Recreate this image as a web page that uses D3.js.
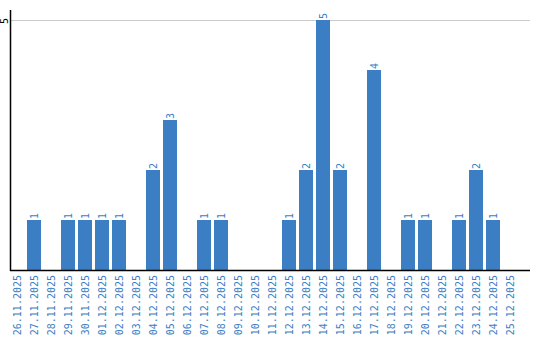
<!DOCTYPE html>
<html>
<head>
<meta charset="utf-8">
<script src="https://cdn.jsdelivr.net/npm/d3@7"></script>
<style>
  body { margin: 0; background: #fff; }
  svg { display: block; }
  text { font-family: "DejaVu Sans Mono", monospace; font-size: 10px; }
</style>
</head>
<body>
<svg id="chart" width="540" height="340"></svg>
<script>
const dates = ["26.11.2025", "27.11.2025", "28.11.2025", "29.11.2025", "30.11.2025",
  "01.12.2025", "02.12.2025", "03.12.2025", "04.12.2025", "05.12.2025",
  "06.12.2025", "07.12.2025", "08.12.2025", "09.12.2025", "10.12.2025",
  "11.12.2025", "12.12.2025", "13.12.2025", "14.12.2025", "15.12.2025",
  "16.12.2025", "17.12.2025", "18.12.2025", "19.12.2025", "20.12.2025",
  "21.12.2025", "22.12.2025", "23.12.2025", "24.12.2025", "25.12.2025"]
const counts = [0, 1, 0, 1, 1, 1, 1, 0, 2, 3, 0, 1, 1, 0, 0, 0, 1, 2, 5, 2, 0, 4, 0, 1, 1, 0, 1, 2, 1, 0]
const yTicks = [5]

const blue = "#3b7ec3"
const left = 10, right = 530, base = 270

const svg = d3.select("#chart")

const x = d3.scaleBand()
  .domain(dates)
  .range([left, 517])
  .paddingInner(3 / 17)
  .paddingOuter(0)
  .align(0)

const y = d3.scaleLinear()
  .domain([0, 5])
  .range([base, 20])

// grid line
svg.selectAll("line.grid")
  .data(yTicks)
  .enter().append("line")
  .attr("class", "grid")
  .attr("x1", left).attr("x2", right)
  .attr("y1", d => y(d) + 0.5).attr("y2", d => y(d) + 0.5)
  .attr("stroke", "#ccc")

// y tick labels (rotated)
svg.selectAll("text.ytick")
  .data(yTicks)
  .enter().append("text")
  .attr("class", "ytick")
  .attr("text-anchor", "middle")
  .attr("transform", d => "translate(8," + (y(d) + 1) + ") rotate(-90)")
  .attr("fill", "#000")
  .text(d => d)

// bars
svg.selectAll("rect.bar")
  .data(dates)
  .enter().append("rect")
  .attr("class", "bar")
  .attr("x", d => x(d))
  .attr("width", x.bandwidth())
  .attr("y", (d, i) => y(counts[i]))
  .attr("height", (d, i) => base - y(counts[i]))
  .attr("fill", blue)

// value labels
svg.selectAll("text.val")
  .data(dates.filter((d, i) => counts[i] > 0))
  .enter().append("text")
  .attr("class", "val")
  .attr("fill", blue)
  .attr("transform", d => {
    const v = counts[dates.indexOf(d)]
    return "translate(" + (x(d) + x.bandwidth() / 2 + 3.5) + "," + (y(v) - 1) + ") rotate(-90)"
  })
  .text(d => counts[dates.indexOf(d)])

// category labels
svg.selectAll("text.xlab")
  .data(dates)
  .enter().append("text")
  .attr("class", "xlab")
  .attr("fill", blue)
  .attr("text-anchor", "end")
  .attr("transform", d => "translate(" + (x(d) + x.bandwidth() / 2 + 3.5) + "," + (base + 5) + ") rotate(-90)")
  .text(d => d)

// axes
svg.append("line")
  .attr("x1", left + 0.5).attr("x2", left + 0.5)
  .attr("y1", 10).attr("y2", base + 1)
  .attr("stroke", "#000").attr("stroke-width", 1.5)
svg.append("line")
  .attr("x1", left).attr("x2", right)
  .attr("y1", base + 0.5).attr("y2", base + 0.5)
  .attr("stroke", "#000").attr("stroke-width", 1.5)
</script>
</body>
</html>
